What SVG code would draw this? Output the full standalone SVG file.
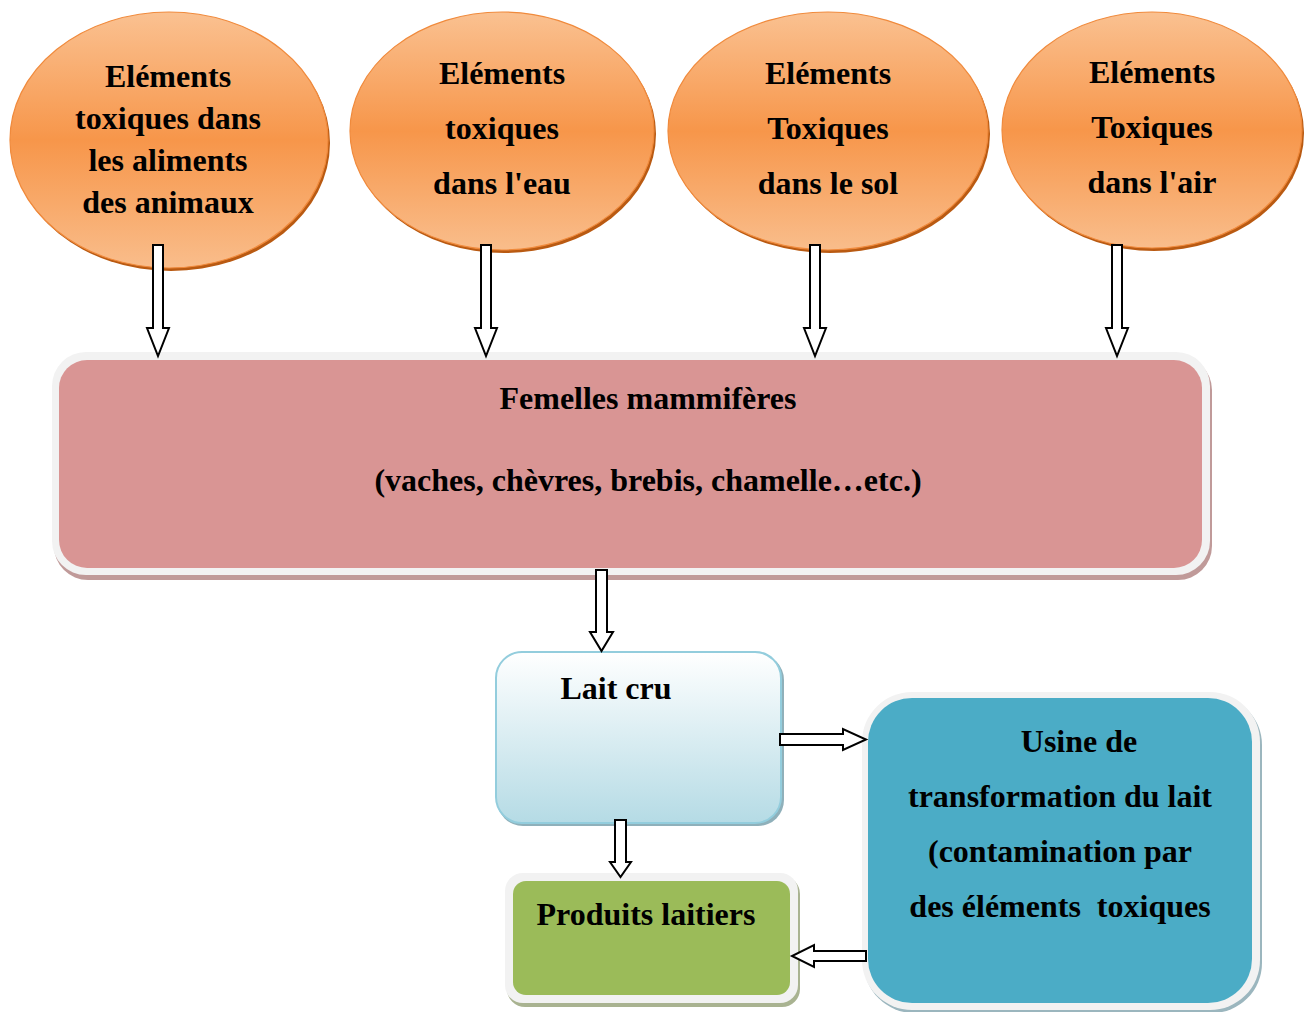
<svg xmlns="http://www.w3.org/2000/svg" width="1311" height="1012" viewBox="0 0 1311 1012">
<style>
text{font-family:"Liberation Serif","Times New Roman",serif;font-weight:bold;font-size:32px;fill:#000;text-anchor:middle}
.arrow{fill:#fff;stroke:#000;stroke-width:2;stroke-linejoin:miter}
.oval{fill:url(#og);stroke:#f08a3c;stroke-width:1.2}
.ovsh{fill:#b95a12}
</style>
<defs>
<linearGradient id="og" x1="0" y1="0" x2="0" y2="1">
<stop offset="0" stop-color="#fac191"/>
<stop offset="0.5" stop-color="#f7964a"/>
<stop offset="1" stop-color="#f9bd8b"/>
</linearGradient>
<linearGradient id="bg" x1="0" y1="0" x2="0" y2="1">
<stop offset="0" stop-color="#ffffff"/>
<stop offset="1" stop-color="#b5dbe5"/>
</linearGradient>
</defs>
<g id="oval1">
<ellipse class="ovsh" cx="171" cy="143" rx="159" ry="128"/>
<ellipse class="oval" cx="169" cy="140" rx="159" ry="128"/>
<text x="168" y="87">Eléments</text>
<text x="168" y="129">toxiques dans</text>
<text x="168" y="171">les aliments</text>
<text x="168" y="213">des animaux</text>
</g>
<g id="oval2">
<ellipse class="ovsh" cx="504" cy="134" rx="152" ry="119"/>
<ellipse class="oval" cx="502" cy="131" rx="152" ry="119"/>
<text x="502" y="84">Eléments</text>
<text x="502" y="139">toxiques</text>
<text x="502" y="194">dans l'eau</text>
</g>
<g id="oval3">
<ellipse class="ovsh" cx="830" cy="134" rx="160" ry="119"/>
<ellipse class="oval" cx="828" cy="131" rx="160" ry="119"/>
<text x="828" y="84">Eléments</text>
<text x="828" y="139">Toxiques</text>
<text x="828" y="194">dans le sol</text>
</g>
<g id="oval4">
<ellipse class="ovsh" cx="1154" cy="133" rx="150" ry="118"/>
<ellipse class="oval" cx="1152" cy="130" rx="150" ry="118"/>
<text x="1152" y="83">Eléments</text>
<text x="1152" y="138">Toxiques</text>
<text x="1152" y="193">dans l'air</text>
</g>
<g id="femelles">
<rect x="54" y="356" width="1158" height="224" rx="34" fill="#c09a99"/>
<rect x="52" y="352" width="1158" height="223" rx="34" fill="#f2f2f2"/>
<rect x="59" y="360" width="1143" height="208" rx="28" fill="#d99594"/>
<text x="648" y="409">Femelles mammifères</text>
<text x="648" y="491">(vaches, chèvres, brebis, chamelle…etc.)</text>
</g>
<g id="laitcru">
<rect x="497" y="654" width="287" height="172" rx="26" fill="#8fb0ba"/>
<rect x="496" y="652" width="285" height="171" rx="26" fill="url(#bg)" stroke="#93cddd" stroke-width="2"/>
<text x="616" y="699">Lait cru</text>
</g>
<g id="produits">
<rect x="507" y="876" width="293" height="131" rx="18" fill="#a9b391"/>
<rect x="505" y="873" width="293" height="130" rx="18" fill="#f2f2f2"/>
<rect x="513" y="881" width="277" height="114" rx="13" fill="#9bbb59"/>
<text x="646" y="925">Produits laitiers</text>
</g>
<g id="usine">
<rect x="864" y="695" width="398" height="318" rx="50" fill="#9bb6be"/>
<rect x="862" y="692" width="398" height="318" rx="50" fill="#f2f2f2"/>
<rect x="868" y="698" width="384" height="305" rx="44" fill="#4bacc6"/>
<text x="1079" y="752">Usine de</text>
<text x="1060" y="807">transformation du lait</text>
<text x="1060" y="862">(contamination par</text>
<text x="1060" y="917" style="white-space:pre">des éléments  toxiques</text>
</g>
<g id="connectors">
<polygon class="arrow" points="153,245 163,245 163,328 169,328 158,356 147,328 153,328"/>
<polygon class="arrow" points="481,245 491,245 491,328 497,328 486,356 475,328 481,328"/>
<polygon class="arrow" points="810,245 820,245 820,328 826,328 815,356 804,328 810,328"/>
<polygon class="arrow" points="1112,245 1122,245 1122,328 1128,328 1117,356 1106,328 1112,328"/>
<polygon class="arrow" points="596,570 607,570 607,632 613,632 601.5,651 590,632 596,632"/>
<polygon class="arrow" points="615,820 626,820 626,862 631,862 620.5,877 610,862 615,862"/>
<polygon class="arrow" points="780,734 843,734 843,729 866,739.5 843,750 843,745 780,745"/>
<polygon class="arrow" points="866,951 814,951 814,945 792,956 814,967 814,961 866,961"/>
</g>
</svg>
